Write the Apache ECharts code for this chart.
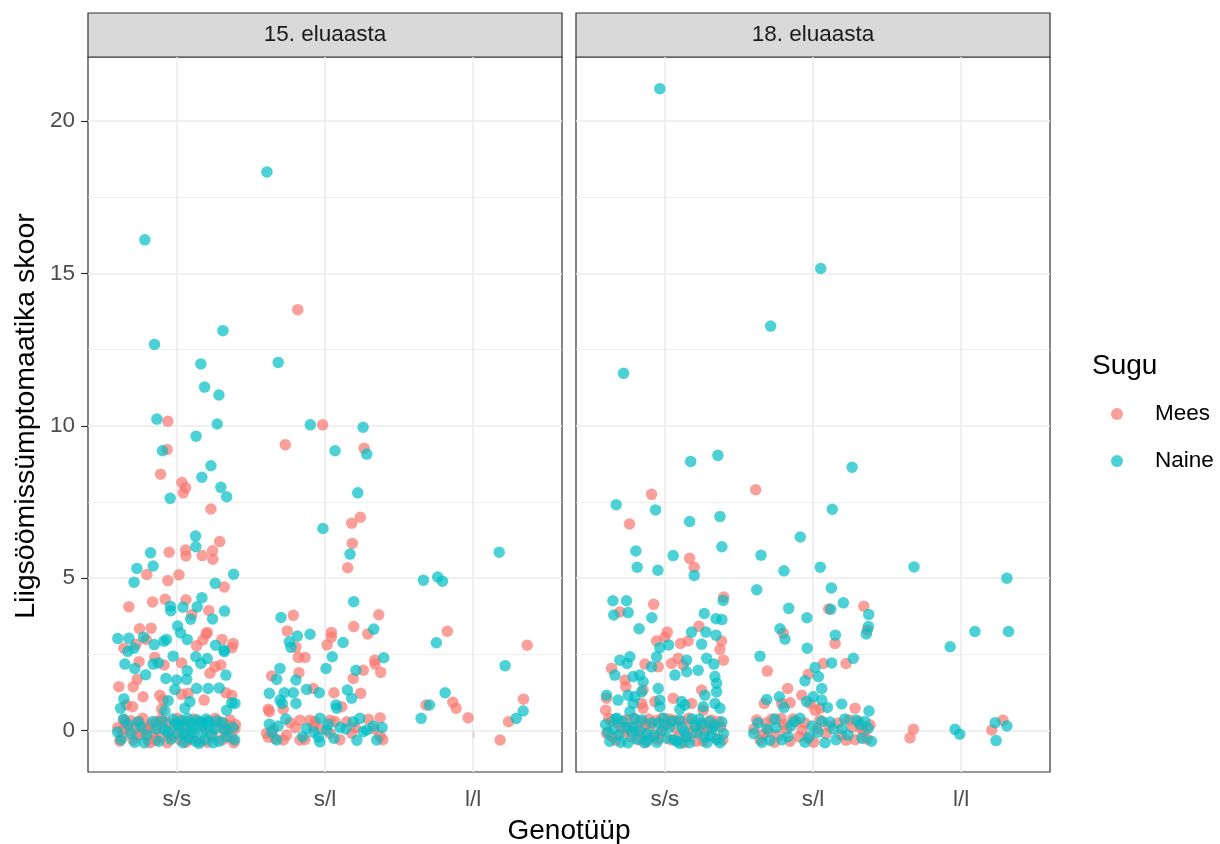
<!DOCTYPE html>
<html><head><meta charset="utf-8">
<script src="https://cdn.jsdelivr.net/npm/echarts@6/dist/echarts.min.js"></script>
<style>html,body{margin:0;padding:0;background:#fff}#c{width:1220px;height:844px}</style>
</head><body><div id="c"></div>
<script>
// ---- categories / labels ----
const genotypes = ['s/s', 's/l', 'l/l'];           // x positions 1,2,3 (jittered)
const genotypeTicks = [1, 2, 3];
const yTicks = [0, 5, 10, 15, 20];
const yMinor = [2.5, 7.5, 12.5, 17.5];
const panels = ['15. eluaasta', '18. eluaasta'];
const sexes = ['Mees', 'Naine'];

// ---- data: [jittered genotype position, score] ----
const age15Mees = [
[0.939,10.15],[0.934,9.22],[0.890,8.41],[1.034,8.14],[1.059,7.97],[1.043,7.80],[1.230,7.27],[1.289,6.20],[0.948,5.85],[1.059,5.92],[1.061,5.73],[1.171,5.74],[1.241,5.90],[1.243,5.62],[0.797,5.12],[1.014,5.11],[0.939,4.92],[1.320,4.71],[0.676,4.06],[0.836,4.22],[0.921,4.31],[1.061,4.29],[1.101,3.81],[1.216,3.94],[0.748,3.34],[0.826,3.36],[1.205,3.22],[0.725,2.83],[0.793,2.99],[1.176,2.97],[1.198,3.17],[1.133,2.78],[1.304,2.99],[1.380,2.86],[1.372,2.72],[0.642,2.70],[0.745,2.26],[0.914,2.15],[0.851,2.40],[1.032,2.22],[1.257,2.09],[1.223,1.88],[1.297,2.15],[0.732,1.68],[0.705,1.44],[0.608,1.44],[0.772,1.11],[0.885,1.16],[0.907,1.00],[1.032,1.19],[1.076,1.22],[1.184,1.00],[1.331,1.24],[1.370,1.16],[0.660,0.84],[0.701,0.78],[0.897,0.70],
[0.601,0.10],[0.628,-0.20],[0.655,0.25],[0.682,0.00],[0.703,-0.30],[0.723,0.15],[0.743,0.30],[0.764,-0.10],[0.784,0.05],[0.804,-0.28],[0.824,0.20],[0.845,-0.05],[0.865,0.30],[0.885,-0.22],[0.905,0.10],[0.926,0.28],[0.946,-0.15],[0.966,0.05],[0.993,0.25],[1.020,-0.30],[1.047,0.15],[1.074,0.30],[1.101,-0.10],[1.128,0.22],[1.155,-0.35],[1.189,0.05],[1.216,0.30],[1.243,-0.20],[1.270,0.12],[1.297,0.28],[1.324,-0.05],[1.345,0.18],[1.372,-0.25],[1.392,0.05],[1.395,0.20],[0.642,0.35],[0.818,-0.40],[1.061,-0.38],[1.358,0.35],
[0.615,-0.35],[0.640,0.05],[0.690,0.32],[0.735,-0.15],[0.770,0.40],[0.812,0.10],[0.858,-0.32],[0.895,0.38],[0.935,-0.40],[0.975,-0.20],[1.005,0.40],[1.038,-0.05],[1.085,-0.28],[1.115,0.38],[1.170,0.25],[1.205,-0.38],[1.258,0.40],[1.310,-0.30],[1.338,0.02],[1.385,-0.40],
[1.816,13.81],[1.984,10.03],[1.732,9.38],[2.264,9.26],[2.239,7.00],[2.180,6.80],[2.184,6.14],[2.153,5.34],[1.786,3.78],[1.745,3.27],[1.804,2.73],[2.043,3.22],[2.043,3.06],[2.014,2.81],[2.194,3.41],[2.289,3.17],[2.363,3.80],[1.820,2.40],[1.865,2.40],[2.336,2.31],[1.640,1.79],[1.824,1.90],[2.259,1.98],[2.191,1.71],[2.338,2.18],[2.376,1.91],[1.921,1.38],[2.061,1.24],[2.241,1.22],[2.113,0.78],[1.718,0.70],[1.617,0.70],[1.624,0.62],
[1.764,0.26],[1.831,0.34],[1.899,0.34],[1.932,0.29],[2.034,0.34],[2.068,0.29],[2.147,0.29],[2.293,0.37],[2.372,0.42],[1.617,-0.22],[1.662,-0.26],[1.718,-0.31],[1.831,-0.31],[1.865,-0.29],[2.034,-0.09],[2.180,-0.09],[2.372,-0.18],[1.606,-0.09],[1.921,0.12],
[1.650,0.05],[1.740,-0.15],[1.800,0.10],[1.975,0.05],[2.100,-0.30],[2.205,0.10],[2.330,0.05],[2.390,-0.30],
[2.826,3.26],[3.365,2.80],[2.682,0.84],[2.863,0.93],[2.885,0.73],[2.966,0.42],[3.340,1.03],[3.239,0.29],[3.182,-0.31]
];
const age15Naine = [
[0.784,16.10],[1.311,13.12],[0.849,12.67],[1.162,12.03],[1.187,11.27],[1.284,11.01],[0.865,10.22],[1.272,10.06],[1.130,9.66],[0.903,9.18],[1.230,8.69],[1.169,8.31],[1.297,7.98],[1.336,7.67],[0.955,7.62],[1.126,6.38],[1.128,6.03],[0.822,5.83],[0.840,5.40],[0.730,5.32],[0.711,4.87],[1.383,5.13],[1.259,4.83],[1.169,4.36],[0.957,4.08],[0.959,3.93],[1.041,4.05],[1.137,4.06],[1.093,3.65],[1.241,3.66],[1.322,3.92],[1.005,3.43],[1.025,3.20],[0.601,3.02],[0.676,3.03],[0.775,3.06],[0.847,2.82],[0.912,2.93],[0.930,2.99],[1.070,2.99],[1.261,2.80],[1.318,2.64],[0.669,2.60],[0.711,2.70],[0.649,2.18],[0.716,2.04],[0.789,1.83],[0.840,2.18],[0.876,2.22],[0.975,2.44],[1.070,1.96],[1.128,2.42],[1.162,2.20],[1.205,2.36],[1.331,1.82],[1.320,2.59],[0.926,1.71],[0.998,1.66],[0.986,1.35],[1.066,1.68],[1.133,1.38],[1.211,1.38],[1.286,1.40],[0.642,1.04],[0.941,0.98],[1.088,0.95],[1.370,0.91],[1.392,0.89],[0.620,0.73],[0.919,0.65],[1.054,0.73],[1.336,0.67],
[0.600,-0.05],[0.622,-0.30],[0.669,0.20],[0.716,-0.38],[0.757,0.12],[0.797,-0.15],[0.838,0.30],[0.878,-0.35],[0.919,0.02],[0.959,-0.28],[0.986,0.20],[1.007,-0.10],[1.027,0.32],[1.041,-0.40],[1.061,0.10],[1.081,-0.25],[1.095,0.25],[1.115,-0.08],[1.135,0.35],[1.149,-0.42],[1.169,0.15],[1.189,-0.30],[1.209,0.30],[1.230,-0.12],[1.257,0.05],[1.284,-0.35],[1.311,0.25],[1.338,-0.20],[1.378,0.10],[1.390,-0.30],
[0.640,0.38],[0.690,-0.10],[0.738,0.28],[0.780,-0.40],[0.860,0.05],[0.900,0.30],[0.940,-0.05],[0.972,0.38],[1.015,0.18],[1.050,-0.15],[1.072,0.40],[1.105,0.05],[1.125,-0.35],[1.158,0.28],[1.178,-0.05],[1.198,0.38],[1.220,0.18],[1.245,-0.40],[1.270,0.32],[1.325,0.02],
[1.608,18.33],[1.684,12.08],[1.901,10.03],[2.257,9.95],[2.068,9.18],[2.282,9.07],[2.221,7.80],[1.986,6.63],[2.169,5.79],[2.194,4.23],[1.703,3.71],[1.813,3.10],[1.899,3.16],[1.759,2.91],[1.770,2.73],[2.122,2.89],[2.329,3.33],[2.049,2.42],[2.397,2.39],[2.007,2.04],[1.696,2.04],[1.674,1.68],[1.804,1.66],[2.209,1.98],[1.624,1.22],[1.725,1.24],[1.786,1.24],[1.696,1.00],[1.711,0.89],[1.804,0.89],[1.876,1.35],[1.961,1.24],[2.151,1.33],[2.180,1.06],[2.074,0.84],[2.079,0.73],
[1.624,0.21],[1.684,0.15],[1.966,0.40],[2.022,0.21],[2.101,0.10],[2.191,0.29],[2.236,0.40],[2.326,0.15],[2.282,0.02],[1.955,-0.22],[1.966,-0.37],[2.011,0.02],[1.674,-0.31],[2.349,-0.31],[2.259,-0.04],[1.876,0.07],
[1.640,-0.05],[1.735,0.38],[1.850,-0.20],[1.925,-0.05],[2.060,-0.25],[2.140,0.05],[2.215,-0.32],[2.385,0.10],
[3.176,5.85],[2.664,4.93],[2.761,5.04],[2.793,4.90],[2.752,2.88],[3.216,2.13],[2.811,1.24],[2.705,0.84],[2.649,0.40],[3.338,0.64],[3.291,0.40]
];
const age18Mees = [
[0.910,7.75],[0.761,6.78],[1.167,5.65],[1.198,5.36],[0.696,3.89],[0.924,4.14],[1.397,4.38],[1.230,3.42],[1.016,3.23],[1.000,3.06],[0.944,2.94],[1.106,2.86],[1.157,2.94],[1.383,2.94],[1.372,2.66],[0.640,2.04],[0.865,2.18],[0.955,2.09],[1.045,2.20],[1.090,2.37],[1.124,2.15],[1.395,2.31],[0.730,1.66],[0.736,1.44],[0.853,1.33],[1.248,1.33],[0.606,1.06],[0.843,0.89],[0.932,0.95],[1.056,1.06],[1.180,0.89],[0.600,0.67],[0.853,0.73],[1.259,0.67],
[0.608,-0.10],[0.635,0.30],[0.669,-0.32],[0.703,0.10],[0.736,0.35],[0.770,-0.20],[0.804,0.05],[0.838,0.28],[0.872,-0.38],[0.905,0.15],[0.939,0.32],[0.973,-0.05],[1.007,0.22],[1.041,-0.30],[1.074,0.08],[1.108,0.30],[1.142,-0.15],[1.176,0.18],[1.209,-0.35],[1.243,0.25],[1.277,-0.02],[1.311,0.35],[1.345,-0.25],[1.378,0.12],[0.622,0.40],[0.723,-0.05],[0.824,-0.30],[0.926,-0.22],[1.027,0.38],[1.128,-0.40],[1.230,0.02],[1.331,0.20],[0.872,0.20],[0.980,0.40],
[0.645,-0.20],[0.685,0.25],[0.750,0.08],[0.790,0.40],[0.855,-0.10],[0.890,0.38],[0.955,-0.28],[0.995,0.15],[1.060,0.35],[1.092,-0.20],[1.160,0.40],[1.192,-0.05],[1.260,-0.35],[1.295,0.10],[1.362,0.30],[1.392,-0.30],
[1.613,7.90],[2.343,4.08],[2.106,3.99],[1.799,3.19],[2.367,3.30],[2.149,2.86],[1.691,1.95],[2.070,2.20],[2.223,2.20],[1.968,1.85],[1.829,1.38],[1.924,1.16],[1.980,0.89],[2.047,0.73],[1.671,0.89],[1.789,0.89],[1.845,0.91],[2.284,0.73],[2.014,0.67],
[1.601,0.05],[1.642,-0.30],[1.682,0.25],[1.723,0.38],[1.764,-0.15],[1.804,0.20],[1.845,-0.35],[1.885,0.30],[1.926,0.02],[1.966,-0.25],[2.047,0.35],[2.088,-0.10],[2.169,0.25],[2.223,-0.32],[2.264,0.10],[2.304,0.30],[2.345,-0.05],[2.385,0.18],[1.662,-0.12],[1.784,0.40],[1.905,-0.20],[2.027,0.05],[2.243,0.35],[2.365,-0.28],
[1.620,0.35],[1.700,-0.05],[1.740,-0.38],[1.822,0.05],[1.865,0.38],[1.945,0.25],[2.005,-0.38],[2.108,0.15],[2.190,-0.15],[2.285,-0.30],[2.325,0.05],
[2.678,0.04],[2.655,-0.24],[3.207,0.02],[3.282,0.34]
];
const age18Naine = [
[0.966,21.06],[0.721,11.72],[1.174,8.83],[1.358,9.03],[0.671,7.41],[0.937,7.24],[1.167,6.86],[1.372,7.02],[0.804,5.89],[1.385,6.03],[0.813,5.36],[1.056,5.74],[0.953,5.26],[1.198,5.09],[0.649,4.26],[0.741,4.26],[0.655,3.79],[0.752,3.87],[0.912,3.70],[0.826,3.34],[1.394,4.27],[1.266,3.84],[1.345,3.67],[1.385,3.64],[1.180,3.23],[1.277,3.23],[1.345,3.13],[1.248,2.83],[0.966,2.72],[1.025,2.81],[0.696,2.31],[0.764,2.42],[0.745,2.20],[0.662,1.82],[0.910,2.09],[0.944,2.42],[1.147,2.31],[1.147,1.93],[1.225,1.98],[1.282,2.37],[1.331,2.18],[1.068,1.82],[0.831,1.82],[0.853,1.60],[0.786,1.77],[1.338,1.77],[1.349,1.55],[0.955,1.38],[0.752,1.16],[0.797,1.11],[0.843,1.27],[1.270,1.16],[1.349,1.27],[0.606,1.16],[0.684,1.00],[0.786,0.89],[0.966,1.00],[1.113,0.95],[1.135,0.84],[1.259,0.78],[1.338,0.89],[1.372,0.73],[0.764,0.62],[1.101,0.70],[0.966,0.78],
[0.600,0.20],[0.628,-0.35],[0.655,0.05],[0.689,-0.15],[0.716,0.30],[0.750,-0.40],[0.784,0.12],[0.811,-0.28],[0.845,0.35],[0.878,-0.10],[0.912,0.25],[0.946,-0.38],[0.980,0.00],[1.014,-0.25],[1.047,0.30],[1.081,-0.35],[1.115,0.10],[1.149,-0.22],[1.182,0.38],[1.216,-0.08],[1.250,0.20],[1.284,-0.40],[1.318,0.05],[1.351,-0.30],[1.385,0.28],[1.395,-0.10],[0.676,0.40],[0.777,-0.05],[0.885,-0.32],[0.993,0.40],[1.101,-0.42],[1.203,0.15],[1.311,-0.18],
[0.615,-0.05],[0.665,0.38],[0.702,-0.38],[0.735,0.10],[0.798,0.38],[0.830,0.00],[0.862,-0.40],[0.928,-0.15],[0.962,0.25],[1.030,0.10],[1.064,-0.30],[1.098,0.35],[1.132,-0.05],[1.166,-0.40],[1.232,0.38],[1.268,-0.20],[1.302,0.30],[1.338,0.15],[1.372,-0.40],
[2.052,15.16],[1.714,13.27],[2.264,8.64],[2.130,7.26],[1.914,6.35],[1.649,5.75],[1.804,5.24],[2.049,5.36],[1.620,4.62],[2.124,4.68],[1.836,4.01],[2.205,4.19],[2.120,3.98],[2.376,3.81],[1.959,3.70],[1.777,3.34],[1.811,3.00],[2.374,3.41],[2.360,3.17],[2.151,3.13],[1.961,2.70],[1.642,2.44],[2.014,2.07],[2.126,2.22],[2.272,2.37],[2.036,1.77],[1.946,1.63],[2.059,1.38],[2.002,1.11],[2.059,1.00],[1.957,0.95],[2.097,0.76],[1.773,1.11],[1.687,1.02],[1.804,0.76],[2.194,0.87],[2.378,0.64],
[1.600,-0.10],[1.628,0.25],[1.709,-0.32],[1.750,0.10],[1.831,-0.20],[1.872,0.30],[1.946,-0.38],[1.993,0.15],[2.034,-0.05],[2.115,0.28],[2.155,-0.30],[2.196,0.05],[2.236,-0.15],[2.291,0.35],[2.331,-0.25],[2.372,0.08],[2.395,-0.35],[1.743,0.38],[1.912,0.40],[2.081,-0.40],[2.318,0.20],
[1.655,-0.38],[1.690,0.05],[1.790,-0.30],[1.850,0.15],[1.975,-0.20],[2.060,0.30],[2.136,0.05],[2.215,0.38],[2.350,0.30],
[2.682,5.37],[3.309,5.00],[3.093,3.25],[3.320,3.25],[2.926,2.75],[2.959,0.04],[2.991,-0.12],[3.230,0.26],[3.309,0.15],[3.236,-0.33]
];

// ---- styling ----
const FONT = '"Liberation Sans", Arial, Helvetica, sans-serif';
const COLORS = { Mees: '#F8766D', Naine: '#00BFC4' };
const grids = [
  { left: 88, top: 57, width: 474, height: 715 },
  { left: 576, top: 57, width: 474, height: 715 }
];
const panelData = [
  { Mees: age15Mees, Naine: age15Naine },
  { Mees: age18Mees, Naine: age18Naine }
];

const gridLines = [].concat(
  yTicks.map(v => ({ yAxis: v, lineStyle: { color: '#EBEBEB', width: 1.6, type: 'solid' } })),
  yMinor.map(v => ({ yAxis: v, lineStyle: { color: '#EBEBEB', width: 0.8, type: 'solid' } })),
  genotypeTicks.map(v => ({ xAxis: v, lineStyle: { color: '#EBEBEB', width: 1.6, type: 'solid' } }))
);

const chart = echarts.init(document.getElementById('c'), null, { renderer: 'canvas' });

const xAxis = grids.map((g, i) => ({
  gridIndex: i, type: 'value', min: 0.4, max: 3.6,
  axisLine: { show: false }, splitLine: { show: false },
  axisTick: { show: true, customValues: genotypeTicks, length: 7, lineStyle: { color: '#333333', width: 1.2 } },
  axisLabel: { customValues: genotypeTicks, formatter: v => genotypes[Math.round(v) - 1],
    color: '#4D4D4D', fontSize: 22.5, fontFamily: FONT, margin: 16 }
}));
const yAxis = grids.map((g, i) => ({
  gridIndex: i, type: 'value', min: -1.36, max: 22.1,
  axisLine: { show: false }, splitLine: { show: false },
  axisTick: { show: i === 0, customValues: yTicks, length: 7, lineStyle: { color: '#333333', width: 1.2 } },
  axisLabel: { show: i === 0, customValues: yTicks, color: '#4D4D4D', fontSize: 22.5, fontFamily: FONT, margin: 13 }
}));

const series = [];
panelData.forEach((pd, i) => {
  sexes.forEach((s, j) => {
    const ser = {
      name: s, type: 'scatter', xAxisIndex: i, yAxisIndex: i, z: 2,
      symbol: 'circle', symbolSize: 11.5,
      itemStyle: { color: COLORS[s], opacity: 0.7 },
      emphasis: { disabled: true },
      data: pd[s]
    };
    if (j === 0) {
      ser.markLine = { silent: true, symbol: ['none', 'none'], label: { show: false }, z: 1,
        animation: false, emphasis: { disabled: true }, data: gridLines };
    }
    series.push(ser);
  });
});

const graphic = [];
panels.forEach((p, i) => {
  const g = grids[i];
  graphic.push({ type: 'rect', shape: { x: g.left, y: 13, width: g.width, height: 44 },
    style: { fill: '#D9D9D9', stroke: '#333333', lineWidth: 1.2 }, silent: true });
  graphic.push({ type: 'text', x: g.left + g.width / 2, y: 35,
    style: { text: p, fill: '#1A1A1A', font: '22.5px ' + FONT, textAlign: 'center', textVerticalAlign: 'middle' }, silent: true });
});
graphic.push({ type: 'text', x: 569, y: 831,
  style: { text: 'Genotüüp', fill: '#000', font: '28px ' + FONT, textAlign: 'center', textVerticalAlign: 'middle' } });
graphic.push({ type: 'text', x: 26, y: 416, rotation: Math.PI / 2,
  style: { text: 'Liigsöömissümptomaatika skoor', fill: '#000', font: '28.5px ' + FONT, textAlign: 'center', textVerticalAlign: 'middle' } });
graphic.push({ type: 'text', x: 1092, y: 366,
  style: { text: 'Sugu', fill: '#000', font: '28px ' + FONT, textAlign: 'left', textVerticalAlign: 'middle' } });

chart.setOption({
  animation: false,
  backgroundColor: '#FFFFFF',
  grid: grids.map(g => Object.assign({ show: true, borderColor: '#333333', borderWidth: 1.2, backgroundColor: 'transparent', containLabel: false }, g)),
  xAxis, yAxis, series, graphic,
  legend: {
    data: sexes, orient: 'vertical', left: 1106, top: 397.5, itemWidth: 66, itemHeight: 12, itemGap: 24,
    icon: 'circle', selectedMode: false,
    textStyle: { fontSize: 22.5, fontFamily: FONT, color: '#000', lineHeight: 23 }
  }
});
</script></body></html>
